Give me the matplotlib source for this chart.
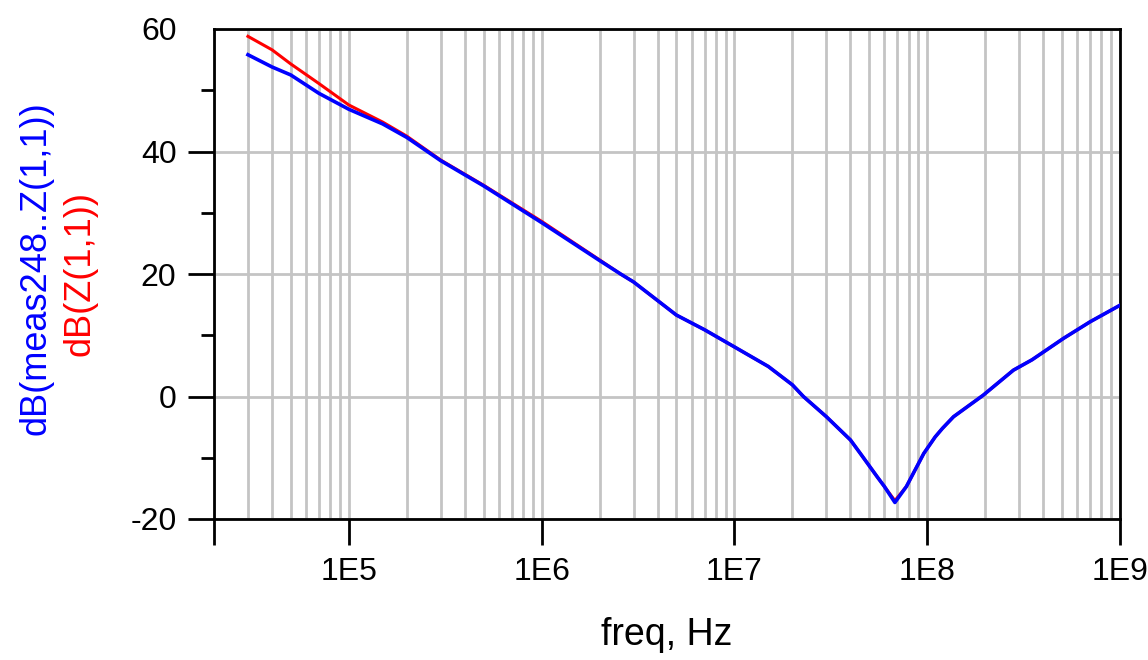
import numpy as np
import matplotlib.pyplot as plt
from matplotlib.ticker import FixedLocator, LogLocator, NullFormatter

plt.rcParams['font.family'] = ['Liberation Sans', 'DejaVu Sans']
plt.rcParams['axes.unicode_minus'] = False

# measured impedance, dB(meas248..Z(1,1))
freq_meas = [3e4, 4e4, 5e4, 7e4, 1e5, 1.5e5, 2e5, 3e5, 5e5, 1e6, 2e6, 2.57e6,
             3e6, 5e6, 7e6, 1e7, 1.5e7, 2e7, 2.28e7, 3e7, 4e7, 4.5e7, 5.5e7,
             6e7, 6.8e7, 7.8e7, 9.6e7, 1.1e8, 1.2e8, 1.37e8, 1.95e8, 2.8e8,
             3.5e8, 5.1e8, 7e8, 1e9]
db_meas = [55.8, 53.8, 52.5, 49.5, 46.9, 44.5, 42.3, 38.5, 34.4, 28.4, 22.2, 20.0,
           18.7, 13.3, 10.9, 8.1, 4.9, 1.9, 0.0, -3.3, -7.1, -9.3, -13.1,
           -14.7, -17.3, -14.7, -9.3, -6.6, -5.2, -3.3, 0.2, 4.3,
           6.0, 9.5, 12.2, 14.9]

# model impedance, dB(Z(1,1))
freq_model = [3e4, 4e4, 5e4, 7e4, 1e5, 1.5e5, 2e5, 3e5, 5e5, 1e6, 2e6, 2.57e6,
              3e6, 5e6, 7e6, 1e7, 1.5e7, 2e7, 2.28e7, 3e7, 4e7, 4.5e7, 5.5e7,
              6e7, 6.8e7, 7.8e7, 9.6e7, 1.1e8, 1.2e8, 1.37e8, 1.95e8, 2.8e8,
              3.5e8, 5.1e8, 7e8, 1e9]
db_model = [58.8, 56.6, 54.3, 51.1, 47.6, 44.8, 42.5, 38.6, 34.5, 28.6, 22.3, 20.0,
            18.7, 13.3, 10.9, 8.1, 4.9, 1.9, 0.0, -3.3, -7.1, -9.3, -13.1,
            -14.7, -17.0, -14.7, -9.3, -6.6, -5.2, -3.3, 0.2, 4.3,
            6.0, 9.5, 12.2, 14.9]

xticks = [2e4, 1e5, 1e6, 1e7, 1e8, 1e9]
xticklabels = ['', '1E5', '1E6', '1E7', '1E8', '1E9']
yticks = [-20, 0, 20, 40, 60]

fig = plt.figure(figsize=(11.48, 6.6), dpi=100)
ax = fig.add_axes([214 / 1148, 1 - 519 / 660, 906 / 1148, 490 / 660])

ax.plot(freq_model, db_model, color='#ff0000', lw=2.2, zorder=3)
ax.plot(freq_meas, db_meas, color='#0000ff', lw=2.6, zorder=4)

ax.set_xscale('log')
ax.set_xlim(2e4, 1e9)
ax.set_ylim(-20, 60)

ax.xaxis.set_major_locator(FixedLocator(xticks))
ax.set_xticklabels(xticklabels)
ax.xaxis.set_minor_locator(LogLocator(base=10, subs=np.arange(2, 10), numticks=20))
ax.xaxis.set_minor_formatter(NullFormatter())
ax.set_yticks(yticks)
ax.set_yticks([-10, 10, 30, 50], minor=True)

ax.grid(True, which='both', axis='x', color='#c4c4c4', lw=2)
ax.grid(True, which='major', axis='y', color='#c4c4c4', lw=2)
ax.set_axisbelow(True)

ax.tick_params(axis='both', which='major', direction='out', length=19, width=2,
               labelsize=23, pad=8, colors='black')
ax.tick_params(axis='x', which='minor', length=0)
ax.tick_params(axis='y', which='minor', direction='out', length=9.5, width=2)
ax.yaxis.get_major_ticks()[-1].tick1line.set_visible(False)

for s in ax.spines.values():
    s.set_linewidth(2)
    s.set_color('black')

ax.set_xlabel('freq, Hz', fontsize=27, labelpad=22)

fig.text(0.031, 0.594, 'dB(meas248..Z(1,1))', color='#0000ff', fontsize=26,
         rotation=90, ha='center', va='center')
fig.text(0.070, 0.585, 'dB(Z(1,1))', color='#ff0000', fontsize=26,
         rotation=90, ha='center', va='center')

fig.savefig('out.png', dpi=100)
